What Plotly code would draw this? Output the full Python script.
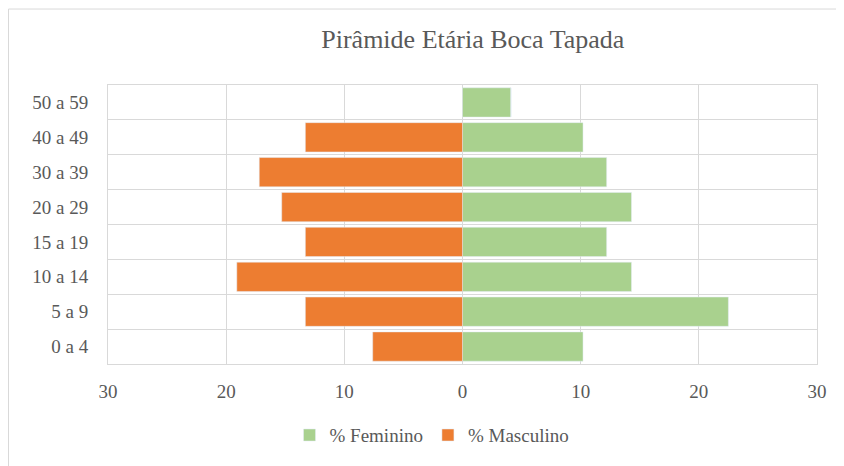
import plotly.graph_objects as go

faixas = ['0 a 4', '5 a 9', '10 a 14', '15 a 19', '20 a 29', '30 a 39', '40 a 49', '50 a 59']
feminino = [10.2, 22.5, 14.3, 12.2, 14.3, 12.2, 10.2, 4.1]
masculino = [7.6, 13.3, 19.1, 13.3, 15.3, 17.2, 13.3, 0]
ticks = [-30, -20, -10, 0, 10, 20, 30]

fonte = dict(family='Liberation Serif', color='#595959')

fig = go.Figure()
fig.add_trace(go.Bar(y=faixas, x=feminino, orientation='h', name='% Feminino',
                     marker_color='#A9D18E'))
fig.add_trace(go.Bar(y=faixas, x=[-v for v in masculino], orientation='h', name='% Masculino',
                     marker_color='#ED7D31'))

# a página tem margem de 8px no body, por isso a figura é 8px menor
fig.update_layout(
    width=836, height=458,
    margin=dict(l=100, r=27, t=77, b=100),
    barmode='relative', bargap=0.16,
    plot_bgcolor='white', paper_bgcolor='white',
    font=dict(size=19, **fonte),
    title=dict(text='Pirâmide Etária Boca Tapada', x=0.556, xanchor='center', y=0.933, yanchor='middle',
               font=dict(size=26, **fonte)),
    legend=dict(orientation='h', x=0.457, xanchor='center', y=-0.255, yanchor='middle',
                font=dict(size=19, **fonte), traceorder='normal', itemwidth=30),
    showlegend=True,
)

fig.update_xaxes(range=[-30, 30], tickvals=ticks, ticktext=[str(abs(t)) for t in ticks],
                 showgrid=True, gridcolor='#D9D9D9', zeroline=False,
                 showline=True, linecolor='#D9D9D9', mirror=True, ticklabelstandoff=10)
fig.update_yaxes(type='category', categoryorder='array', categoryarray=faixas,
                 tickson='boundaries', showgrid=True, gridcolor='#D9D9D9',
                 showline=True, linecolor='#D9D9D9', mirror=True, ticklabelstandoff=15)

# moldura externa do gráfico
fig.add_shape(type='rect', xref='paper', yref='paper',
              x0=(0.5 - 100) / 709, x1=(850 - 100) / 709, y0=-0.5, y1=1 + 76.5 / 281,
              line=dict(color='#D9D9D9', width=1), fillcolor='rgba(0,0,0,0)', layer='below')

fig.write_html('out.html')
